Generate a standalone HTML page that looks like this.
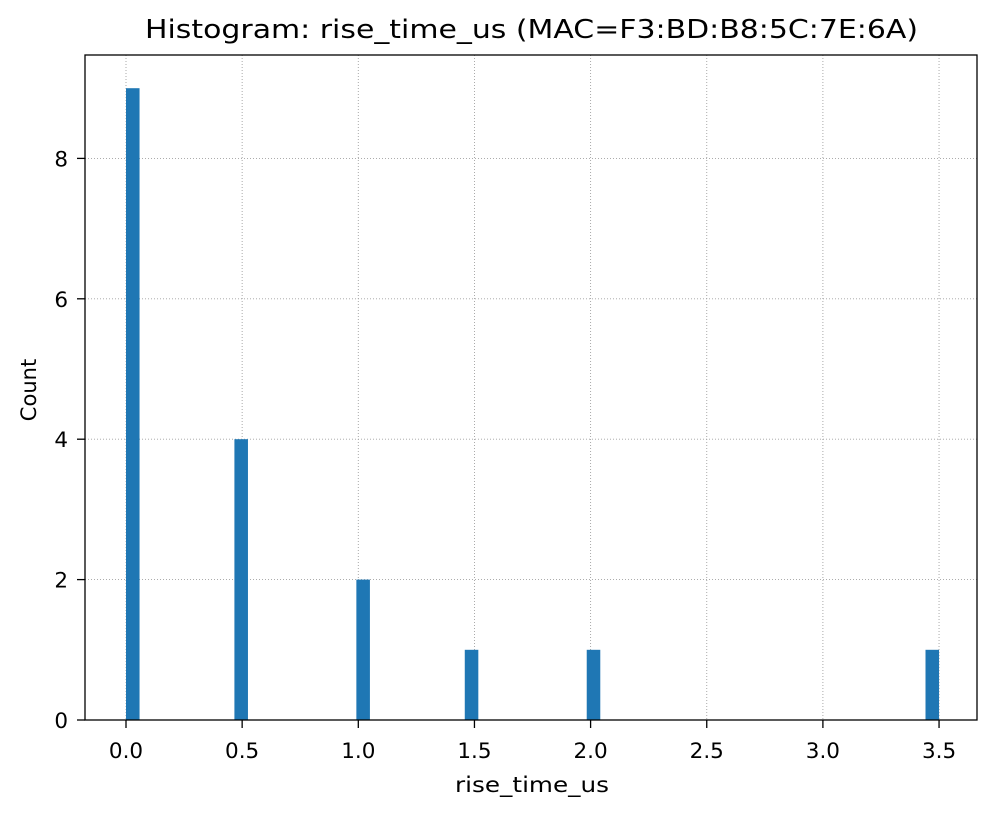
<!DOCTYPE html>
<html><head><meta charset="utf-8"><style>body{margin:0;background:#fff}svg{display:block;font-family:"DejaVu Sans","Liberation Sans",sans-serif}</style></head>
<body>
<svg id="chart" width="996" height="815">
<rect x="0" y="0" width="996" height="815" fill="#fff"/>
<g id="grid"></g>
<g id="bars"></g>
<g id="axes"></g>
<text x="145" y="38" font-size="26" textLength="773" lengthAdjust="spacingAndGlyphs">Histogram: rise_time_us (MAC=F3:BD:B8:5C:7E:6A)</text>
<text x="455" y="792" font-size="21" textLength="154" lengthAdjust="spacingAndGlyphs">rise_time_us</text>
<text x="36" y="390" font-size="21" text-anchor="middle" transform="rotate(-90 36 390)">Count</text>
</svg>
<script>
const binStarts = [0, 0.46667, 0.99167, 1.45833, 1.98333, 3.44167];
const counts = [9, 4, 2, 1, 1, 1];
const binWidth = 3.5 / 60;
const xTicks = [0, 0.5, 1.0, 1.5, 2.0, 2.5, 3.0, 3.5];
const xTickLabels = ["0.0","0.5","1.0","1.5","2.0","2.5","3.0","3.5"];
const yTicks = [0, 2, 4, 6, 8];
const L=85,R=977,T=55,B=720;
const xs=v=>126+v*232.3;
const ys=v=>B-v*70.2;
const NS="http://www.w3.org/2000/svg";
function mk(tag,attrs,parent){const e=document.createElementNS(NS,tag);for(const k in attrs)e.setAttribute(k,attrs[k]);parent.appendChild(e);return e;}
const grid=document.getElementById('grid'),bars=document.getElementById('bars'),axes=document.getElementById('axes');
xTicks.forEach((t,i)=>{
  const gl=mk('line',{x1:xs(t),x2:xs(t),y1:T,y2:B,stroke:'#a0a0a0','stroke-width':0.9,'stroke-dasharray':'1,2'},grid);
  
  
  const tk=mk('line',{x1:xs(t),x2:xs(t),y1:B,y2:B+8,stroke:'#000','stroke-width':1.3},axes);
  
  
  const tx=mk('text',{x:xs(t),y:758,'font-size':21.5,'text-anchor':'middle'},axes);
  tx.textContent=xTickLabels[i];
  
  
});
yTicks.forEach(t=>{
  const gl=mk('line',{x1:L,x2:R,y1:ys(t),y2:ys(t),stroke:'#a0a0a0','stroke-width':0.9,'stroke-dasharray':'1,2'},grid);
  
  
  const tk=mk('line',{x1:L-8,x2:L,y1:ys(t),y2:ys(t),stroke:'#000','stroke-width':1.3},axes);
  
  
  const tx=mk('text',{x:68,y:ys(t)+8,'font-size':21.5,'text-anchor':'end'},axes);
  tx.textContent=String(t);
  
  
});
binStarts.forEach((s,i)=>{
  const x0=xs(s),x1=xs(s+binWidth);
  const r=mk('rect',{x:x0,y:ys(counts[i]),width:x1-x0,height:B-ys(counts[i]),fill:'#1f77b4'},bars);
  
  
});
const fr=mk('rect',{x:L,y:T,width:R-L,height:B-T,fill:'none',stroke:'#000','stroke-width':1.3},axes);


</script>
</body></html>
